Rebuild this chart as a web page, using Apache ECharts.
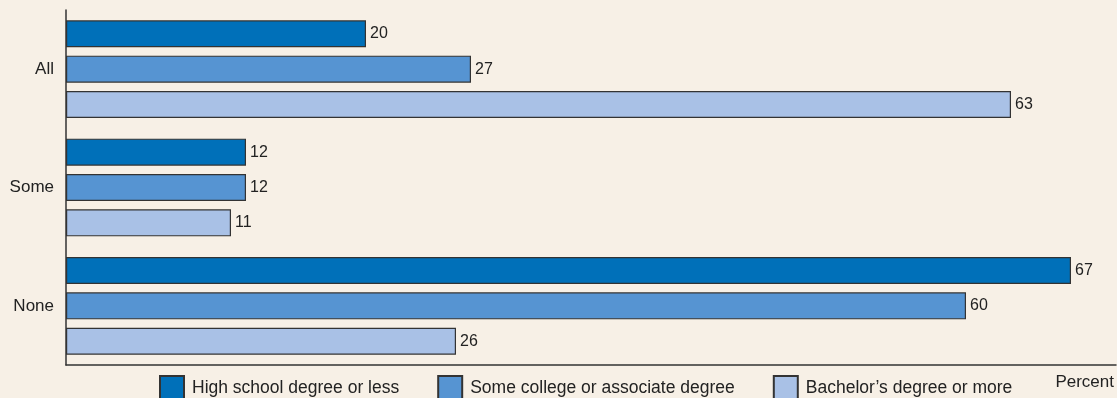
<!DOCTYPE html>
<html>
<head>
<meta charset="utf-8">
<script src="https://cdn.jsdelivr.net/npm/echarts@6/dist/echarts.min.js"></script>
<style>
html,body{margin:0;padding:0;background:#f7f0e6;}
#c{width:1117px;height:398px;}
</style>
</head>
<body>
<div id="c"></div>
<script>
const categories = ['All', 'Some', 'None'];
const seriesNames = ['High school degree or less', 'Some college or associate degree', 'Bachelor\u2019s degree or more'];
const highSchool = [20, 12, 67];
const someCollege = [27, 12, 60];
const bachelor = [63, 11, 26];
const colors = ['#0070b9', '#5694d2', '#a9c1e6'];
const FONT = "'Liberation Sans Narrow', 'Arial Narrow', 'Liberation Sans', sans-serif";

const values = [highSchool, someCollege, bachelor];
const chart = echarts.init(document.getElementById('c'));
chart.setOption({
  backgroundColor: '#f7f0e6',
  animation: false,
  textStyle: { fontFamily: FONT },
  title: {
    text: 'Percent', right: 3, top: 374, padding: 0,
    textStyle: { fontFamily: FONT, fontSize: 17, fontWeight: 'normal', color: '#222' }
  },
  legend: {
    data: seriesNames,
    left: 159, top: 375, padding: 0,
    itemWidth: 24, itemHeight: 24, itemGap: 38,
    icon: 'rect',
    textStyle: { fontFamily: FONT, fontSize: 17.5, color: '#222', padding: [0, 0, 0, 3] }
  },
  grid: { left: 66, right: 1, top: 10, bottom: 33 },
  xAxis: {
    type: 'value', min: 0, max: 70,
    axisLine: { show: true, lineStyle: { color: '#333', width: 1.5 } },
    axisTick: { show: false }, axisLabel: { show: false }, splitLine: { show: false }
  },
  yAxis: {
    type: 'category', data: categories, inverse: true,
    axisLine: { show: true, lineStyle: { color: '#333', width: 1.5 } },
    axisTick: { show: false },
    axisLabel: { fontFamily: FONT, fontSize: 17, color: '#222', margin: 12 }
  },
  series: seriesNames.map((n, i) => ({
    name: n, type: 'bar', data: values[i],
    barWidth: 27, barGap: '31%',
    itemStyle: { color: colors[i], borderColor: '#333', borderWidth: 1.2 },
    label: { show: true, position: 'right', distance: 4, fontFamily: FONT, fontSize: 16, color: '#222' }
  }))
});
</script>
</body>
</html>
